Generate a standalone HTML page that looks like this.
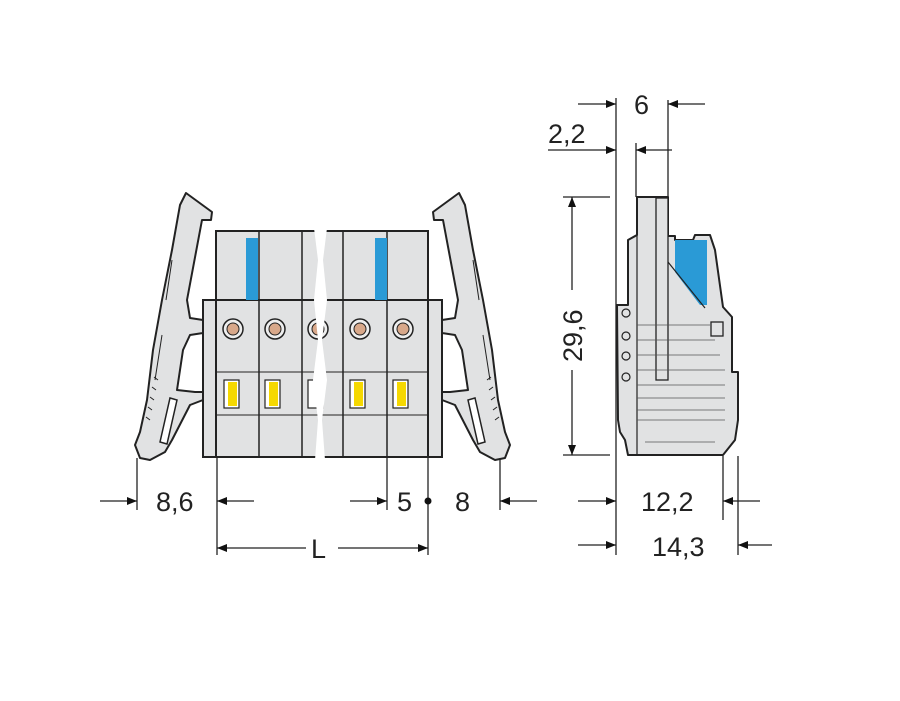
<!DOCTYPE html>
<html><head><meta charset="utf-8"><style>
html,body{margin:0;padding:0;background:#fff;}
svg{display:block;}
text{font-family:"Liberation Sans",sans-serif;font-size:27px;fill:#222;}
</style></head><body>
<svg width="900" height="701" viewBox="0 0 900 701" xmlns="http://www.w3.org/2000/svg">
<defs>
<marker id="a" viewBox="0 0 10 10" refX="10" refY="5" markerWidth="10" markerHeight="10" markerUnits="userSpaceOnUse" orient="auto"><path d="M0,1 L10,5 L0,9z" fill="#111"/></marker>
<g id="latch">
<path d="M186,193 L212,212 L211,220 L202,220 L187,300 L190,318 L203,320 L203,333 L190,335 L183,350 L177,390 L195,392 L203,392 L203,400 L190,405 L172,440 L165,452 L150,460 L140,458 L135,445 L140,432 L147,400 L153,350 L162,300 L172,250 L180,205 Z" fill="#e1e2e3" stroke="#222" stroke-width="2" stroke-linejoin="round"/>
<path d="M160,442 L170,398 L177,400 L167,444 Z" fill="#fff" stroke="#222" stroke-width="1.5"/>
<path d="M155,380 L162,335 M166,300 L172,260" stroke="#222" stroke-width="1" fill="none"/>
<path d="M150,420 l-4,-3 M152,410 l-4,-3 M154,400 l-4,-3 M156,390 l-4,-3 M158,380 l-4,-3" stroke="#222" stroke-width="1" fill="none"/>
</g>
</defs>
<use href="#latch"/>
<use href="#latch" transform="translate(645,0) scale(-1,1)"/>
<rect x="216" y="231" width="212" height="70" fill="#e1e2e3" stroke="#222" stroke-width="2"/>
<rect x="203" y="300" width="239" height="157" fill="#e1e2e3" stroke="#222" stroke-width="2"/>
<rect x="216" y="300" width="212" height="157" fill="#e1e2e3" stroke="#222" stroke-width="2"/>
<g stroke="#222" stroke-width="1.5">
<line x1="259" y1="231" x2="259" y2="457"/><line x1="302" y1="231" x2="302" y2="457"/>
<line x1="343" y1="231" x2="343" y2="457"/><line x1="387" y1="231" x2="387" y2="457"/>
<line x1="216" y1="372" x2="428" y2="372" stroke-width="1"/><line x1="216" y1="415" x2="428" y2="415" stroke-width="1"/>
</g>
<rect x="246" y="238" width="12" height="62" fill="#2a9ad6"/>
<rect x="375" y="238" width="12" height="62" fill="#2a9ad6"/>
<g fill="#eee" stroke="#222" stroke-width="1.5">
<circle cx="233" cy="329" r="10"/><circle cx="275" cy="329" r="10"/><circle cx="318" cy="329" r="10"/><circle cx="360" cy="329" r="10"/><circle cx="403" cy="329" r="10"/>
</g>
<g fill="#d8a88a" stroke="#222" stroke-width="1"><circle cx="233" cy="329" r="6"/><circle cx="275" cy="329" r="6"/><circle cx="318" cy="329" r="6"/><circle cx="360" cy="329" r="6"/><circle cx="403" cy="329" r="6"/></g>
<g fill="#fff" stroke="#222" stroke-width="1.2">
<rect x="224" y="380" width="15" height="28"/><rect x="265" y="380" width="15" height="28"/><rect x="308" y="380" width="15" height="28"/><rect x="350" y="380" width="15" height="28"/><rect x="393" y="380" width="15" height="28"/>
</g>
<g fill="#f5d800"><rect x="228" y="382" width="9" height="24"/><rect x="269" y="382" width="9" height="24"/><rect x="354" y="382" width="9" height="24"/><rect x="397" y="382" width="9" height="24"/></g>
<path d="M314,228 L318,260 L314,300 L318,340 L313,380 L318,420 L315,460 L325,460 L322,420 L327,380 L322,340 L327,300 L323,260 L327,228 Z" fill="#fff"/>
<g stroke="#222" stroke-width="1.3" fill="none">
<line x1="137" y1="458" x2="137" y2="510"/><line x1="217" y1="458" x2="217" y2="555"/>
<line x1="387" y1="458" x2="387" y2="510"/><line x1="428" y1="458" x2="428" y2="555"/>
<line x1="500" y1="458" x2="500" y2="510"/>
<line x1="100" y1="501" x2="137" y2="501" marker-end="url(#a)"/>
<line x1="254" y1="501" x2="217" y2="501" marker-end="url(#a)"/>
<line x1="350" y1="501" x2="387" y2="501" marker-end="url(#a)"/>
<line x1="537" y1="501" x2="500" y2="501" marker-end="url(#a)"/>
<line x1="306" y1="548" x2="217" y2="548" marker-end="url(#a)"/>
<line x1="338" y1="548" x2="428" y2="548" marker-end="url(#a)"/>
</g>
<circle cx="428" cy="501" r="3.5" fill="#111"/>
<text x="156" y="511">8,6</text><text x="397" y="511">5</text><text x="455" y="511">8</text><text x="311" y="558">L</text>
<path d="M637,197 L668,197 L668,236 L675,236 L675,240 L693,240 L695,235 L710,235 L715,250 L723,307 L732,317 L732,372 L738,372 L738,420 L735,440 L723,455 L628,455 L625,440 L620,432 L618,420 L617,305 L628,305 L628,240 L637,235 Z" fill="#e1e2e3" stroke="#222" stroke-width="2" stroke-linejoin="round"/>
<path d="M675,240 L707,240 L707,305 L700,305 L675,272 Z" fill="#2a9ad6"/>
<line x1="668" y1="262" x2="705" y2="308" stroke="#222" stroke-width="1.2"/>
<line x1="637" y1="197" x2="637" y2="455" stroke="#222" stroke-width="1.2"/>
<rect x="656" y="198" width="12" height="182" fill="#e1e2e3" stroke="#222" stroke-width="1.3"/>
<g stroke="#555" stroke-width="0.8">
<line x1="637" y1="325" x2="710" y2="325"/><line x1="637" y1="340" x2="715" y2="340"/><line x1="637" y1="355" x2="720" y2="355"/><line x1="637" y1="370" x2="725" y2="370"/><line x1="637" y1="385" x2="725" y2="385"/><line x1="637" y1="398" x2="725" y2="398"/><line x1="637" y1="410" x2="725" y2="410"/><line x1="637" y1="420" x2="725" y2="420"/><line x1="645" y1="442" x2="715" y2="442"/>
</g>
<rect x="711" y="322" width="12" height="14" fill="none" stroke="#222" stroke-width="1.3"/>
<g fill="#e1e2e3" stroke="#222" stroke-width="1.2"><circle cx="626" cy="313" r="4"/><circle cx="626" cy="336" r="4"/><circle cx="626" cy="356" r="4"/><circle cx="626" cy="377" r="4"/></g>
<g stroke="#222" stroke-width="1.3" fill="none">
<line x1="616" y1="98" x2="616" y2="555"/>
<line x1="668" y1="100" x2="668" y2="197"/>
<line x1="636" y1="143" x2="636" y2="197"/>
<line x1="578" y1="104" x2="616" y2="104" marker-end="url(#a)"/>
<line x1="705" y1="104" x2="668" y2="104" marker-end="url(#a)"/>
<line x1="548" y1="150" x2="616" y2="150" marker-end="url(#a)"/>
<line x1="672" y1="150" x2="636" y2="150" marker-end="url(#a)"/>
<line x1="563" y1="197" x2="610" y2="197"/><line x1="563" y1="455" x2="610" y2="455"/>
<line x1="572" y1="290" x2="572" y2="197" marker-end="url(#a)"/>
<line x1="572" y1="370" x2="572" y2="455" marker-end="url(#a)"/>
<line x1="723" y1="456" x2="723" y2="520"/><line x1="738" y1="456" x2="738" y2="555"/>
<line x1="578" y1="501" x2="616" y2="501" marker-end="url(#a)"/>
<line x1="760" y1="501" x2="723" y2="501" marker-end="url(#a)"/>
<line x1="578" y1="545" x2="616" y2="545" marker-end="url(#a)"/>
<line x1="772" y1="545" x2="738" y2="545" marker-end="url(#a)"/>
</g>
<text x="634" y="114">6</text><text x="548" y="143">2,2</text>
<text x="0" y="0" transform="translate(582,362) rotate(-90)">29,6</text>
<text x="641" y="511">12,2</text><text x="652" y="556">14,3</text>
</svg>
</body></html>
